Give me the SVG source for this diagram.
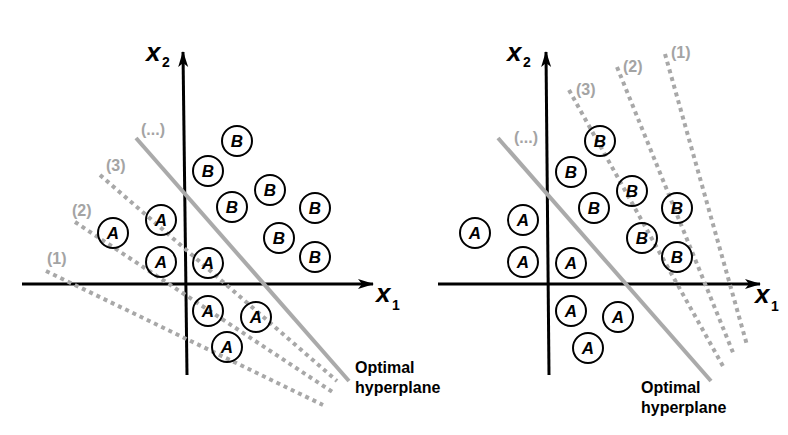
<svg xmlns="http://www.w3.org/2000/svg" width="788" height="435" viewBox="0 0 788 435">
<defs>
<marker id="arr" markerUnits="userSpaceOnUse" markerWidth="16" markerHeight="12" viewBox="0 0 16 12" refX="15" refY="6" orient="auto">
<path d="M0,1 L16,6 L0,11 L4,6 z" fill="#000"/>
</marker>
</defs>
<style>
.axis{stroke:#000;stroke-width:3;fill:none}
.opt{stroke:#aaaaaa;stroke-width:4;fill:none}
.dot{stroke:#a8a8a8;stroke-width:4;stroke-dasharray:4 4;fill:none}
.c{stroke:#000;stroke-width:2;fill:none}
.l{font-family:"Liberation Sans",Arial,sans-serif;font-weight:bold;font-style:italic;font-size:17px;text-anchor:middle;fill:#000}
.ax{font-family:"Liberation Sans",Arial,sans-serif;font-weight:bold;font-style:italic;font-size:26px;fill:#000}
.sub{font-family:"Liberation Sans",Arial,sans-serif;font-weight:bold;font-size:14px;fill:#000}
.g{font-family:"Liberation Sans",Arial,sans-serif;font-weight:bold;font-size:16px;fill:#a4a4a4}
.t{font-family:"Liberation Sans",Arial,sans-serif;font-weight:bold;font-size:16px;fill:#000}
</style>
<g id="connectors">
<line class="axis" x1="187" y1="375" x2="183" y2="52" marker-end="url(#arr)"/>
<line class="axis" x1="22" y1="284" x2="373" y2="284" marker-end="url(#arr)"/>
<line class="axis" x1="549" y1="375" x2="546" y2="52" marker-end="url(#arr)"/>
<line class="axis" x1="438" y1="284" x2="760" y2="284" marker-end="url(#arr)"/>
<line class="opt" x1="136" y1="138" x2="349" y2="381"/>
<line class="opt" x1="498" y1="138" x2="711" y2="381"/>
<line class="dot" x1="100" y1="175" x2="337" y2="381"/>
<line class="dot" x1="75" y1="222" x2="334" y2="393"/>
<line class="dot" x1="46" y1="271" x2="323" y2="405"/>
<line class="dot" x1="569" y1="90" x2="724" y2="368"/>
<line class="dot" x1="617" y1="67" x2="734" y2="355"/>
<line class="dot" x1="665" y1="54" x2="747" y2="345"/>
</g>
<g id="labels">
<text class="ax" x="146" y="61">x</text><text class="sub" x="162" y="67">2</text>
<text class="ax" x="376" y="302">x</text><text class="sub" x="392" y="310">1</text>
<text class="ax" x="507" y="61">x</text><text class="sub" x="523" y="67">2</text>
<text class="ax" x="755" y="303">x</text><text class="sub" x="771" y="311">1</text>
<text class="g" x="141" y="135">(...)</text>
<text class="g" x="106" y="171">(3)</text>
<text class="g" x="72" y="216">(2)</text>
<text class="g" x="47" y="264">(1)</text>
<text class="g" x="514" y="143">(...)</text>
<text class="g" x="576" y="95">(3)</text>
<text class="g" x="623" y="72">(2)</text>
<text class="g" x="671" y="58">(1)</text>
<text class="t" x="355" y="373">Optimal</text>
<text class="t" x="355" y="393">hyperplane</text>
<text class="t" x="641" y="393">Optimal</text>
<text class="t" x="641" y="413">hyperplane</text>
</g>
<g id="LB1"><circle class="c" cx="237" cy="141" r="15"/><text class="l" x="237" y="147">B</text></g>
<g id="LB2"><circle class="c" cx="208" cy="171" r="15"/><text class="l" x="208" y="177">B</text></g>
<g id="LB3"><circle class="c" cx="270" cy="190" r="15"/><text class="l" x="270" y="196">B</text></g>
<g id="LB4"><circle class="c" cx="232" cy="207" r="15"/><text class="l" x="232" y="213">B</text></g>
<g id="LB5"><circle class="c" cx="315" cy="208" r="15"/><text class="l" x="315" y="214">B</text></g>
<g id="LB6"><circle class="c" cx="279" cy="238" r="15"/><text class="l" x="279" y="244">B</text></g>
<g id="LB7"><circle class="c" cx="315" cy="257" r="15"/><text class="l" x="315" y="263">B</text></g>
<g id="LA1"><circle class="c" cx="161" cy="220" r="15"/><text class="l" x="161" y="226">A</text></g>
<g id="LA2"><circle class="c" cx="113" cy="233" r="15"/><text class="l" x="113" y="239">A</text></g>
<g id="LA3"><circle class="c" cx="161" cy="262" r="15"/><text class="l" x="161" y="268">A</text></g>
<g id="LA4"><circle class="c" cx="208" cy="263" r="15"/><text class="l" x="208" y="269">A</text></g>
<g id="LA5"><circle class="c" cx="208" cy="311" r="15"/><text class="l" x="208" y="317">A</text></g>
<g id="LA6"><circle class="c" cx="256" cy="317" r="15"/><text class="l" x="256" y="323">A</text></g>
<g id="LA7"><circle class="c" cx="227" cy="347" r="15"/><text class="l" x="227" y="353">A</text></g>
<g id="RB1"><circle class="c" cx="600" cy="141" r="15"/><text class="l" x="600" y="147">B</text></g>
<g id="RB2"><circle class="c" cx="571" cy="172" r="15"/><text class="l" x="571" y="178">B</text></g>
<g id="RB3"><circle class="c" cx="632" cy="191" r="15"/><text class="l" x="632" y="197">B</text></g>
<g id="RB4"><circle class="c" cx="594" cy="208" r="15"/><text class="l" x="594" y="214">B</text></g>
<g id="RB5"><circle class="c" cx="677" cy="208" r="15"/><text class="l" x="677" y="214">B</text></g>
<g id="RB6"><circle class="c" cx="642" cy="238" r="15"/><text class="l" x="642" y="244">B</text></g>
<g id="RB7"><circle class="c" cx="677" cy="257" r="15"/><text class="l" x="677" y="263">B</text></g>
<g id="RA1"><circle class="c" cx="523" cy="220" r="15"/><text class="l" x="523" y="226">A</text></g>
<g id="RA2"><circle class="c" cx="475" cy="233" r="15"/><text class="l" x="475" y="239">A</text></g>
<g id="RA3"><circle class="c" cx="523" cy="262" r="15"/><text class="l" x="523" y="268">A</text></g>
<g id="RA4"><circle class="c" cx="571" cy="263" r="15"/><text class="l" x="571" y="269">A</text></g>
<g id="RA5"><circle class="c" cx="571" cy="311" r="15"/><text class="l" x="571" y="317">A</text></g>
<g id="RA6"><circle class="c" cx="618" cy="317" r="15"/><text class="l" x="618" y="323">A</text></g>
<g id="RA7"><circle class="c" cx="588" cy="348" r="15"/><text class="l" x="588" y="354">A</text></g>
</svg>
